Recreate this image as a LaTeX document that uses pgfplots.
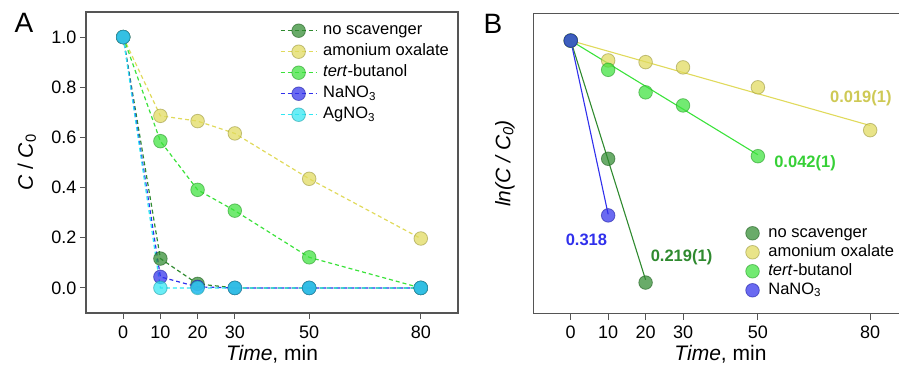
\documentclass[border=0pt]{standalone}
\usepackage{fontspec}
\setmainfont{Liberation Sans}
\usepackage{pgfplots}
\pgfplotsset{compat=1.18}

\definecolor{cNone}{HTML}{2F8A2F}
\definecolor{cAmo}{HTML}{E0DA5C}
\definecolor{cTert}{HTML}{3BE23B}
\definecolor{cNa}{HTML}{3030EC}
\definecolor{cAg}{HTML}{30E6F2}
\definecolor{axgray}{HTML}{555555}

\pgfplotsset{
  base/.style={
    scale only axis,
    axis line style={draw=axgray, line width=1.1pt},
    tick style={draw=axgray, line width=1pt},
    tick align=outside,
    major tick length=6pt,
    xtick pos=bottom, ytick pos=left,
    xmin=-10, xmax=90,
    xtick={0,10,20,30,50,80},
    /pgf/number format/assume math mode=true,
    ticklabel style={font=\fontsize{18}{20}\selectfont},
    xticklabel style={yshift=-3pt},
    label style={font=\fontsize{21}{24}\selectfont},
    xlabel={\textit{Time}, min},
    xlabel style={at={(axis description cs:0.5,0)}, anchor=center, yshift=-41pt},
  },
  mk/.style={mark=*, mark size=6.8pt,
    mark options={solid, fill=#1, fill opacity=0.72, draw=#1!70!black, draw opacity=0.6, line width=0.8pt}},
  dl/.style={color=#1, dash pattern=on 4pt off 3pt, line width=1.2pt, mk=#1},
  legA/.style={legend image code/.code={%
      \draw[##1, mark repeat=2, mark phase=2] plot coordinates {(0pt,0pt) (18pt,0pt) (36pt,0pt)};}},
  legB/.style={legend image code/.code={%
      \draw[##1] plot coordinates {(7pt,0pt)};}},
}

\begin{document}
\begin{tikzpicture}
% ---------------- Panel A ----------------
\begin{axis}[base,
  at={(86pt,53pt)}, anchor=south west,
  width=372pt, height=301pt,
  ymin=-0.1, ymax=1.1,
  ytick={0,0.2,0.4,0.6,0.8,1.0},
  yticklabel style={/pgf/number format/.cd, fixed, fixed zerofill, precision=1},
  ylabel={\textit{C} / \textit{C}\textsubscript{0}},
  ylabel style={at={(axis description cs:-0.159,0.5)}, anchor=center},
  legend cell align=left,
  legend style={at={(0.513,0.975)}, anchor=north west, draw=none, fill=none,
    font=\fontsize{16.5}{18}\selectfont, row sep=3pt,
    nodes={inner sep=1pt, text height=12pt, text depth=4pt},
    /tikz/every odd column/.append style={column sep=5pt}},
  legA,
]
\addplot[dl=cNone] coordinates {(0,1) (10,0.117) (20,0.016) (30,0) (50,0) (80,0)};
\addlegendentry{no scavenger}
\addplot[dl=cAmo] coordinates {(0,1) (10,0.686) (20,0.665) (30,0.616) (50,0.435) (80,0.197)};
\addlegendentry{amonium oxalate}
\addplot[dl=cTert] coordinates {(0,1) (10,0.585) (20,0.391) (30,0.308) (50,0.122) (80,0)};
\addlegendentry{\textit{tert}-butanol}
\addplot[dl=cNa] coordinates {(0,1) (10,0.044) (20,0.004) (30,0) (50,0) (80,0)};
\addlegendentry{NaNO\textsubscript{3}}
\addplot[dl=cAg] coordinates {(0,1) (10,0) (20,0) (30,0) (50,0) (80,0)};
\addlegendentry{AgNO\textsubscript{3}}
\end{axis}

% ---------------- Panel B ----------------
\begin{axis}[base,
  at={(533.3pt,52.3pt)}, anchor=south west,
  width=374.3pt, height=300.4pt,
  ymin=-5, ymax=0.5,
  ytick=\empty,
  ylabel={\textit{ln(C / C\textsubscript{0})}},
  ylabel style={at={(axis description cs:-0.076,0.5)}, anchor=center},
  legend cell align=left,
  legend style={at={(0.559,0.305)}, anchor=north west, draw=none, fill=none,
    font=\fontsize{16.5}{18}\selectfont, row sep=1pt,
    nodes={inner sep=1pt, text height=12pt, text depth=4pt},
    /tikz/every odd column/.append style={column sep=8pt}},
  legB,
]
% fitted lines
\addplot[forget plot, color=cAmo, line width=1.1pt] coordinates {(0,0) (80,-1.555)};
\addplot[forget plot, color=cTert, line width=1.1pt] coordinates {(0,0) (50,-2.09)};
\addplot[forget plot, color=cNone, line width=1.1pt] coordinates {(0,0) (20,-4.38)};
\addplot[forget plot, color=cNa, line width=1.1pt] coordinates {(0,0) (10,-3.18)};
% data
\addplot[only marks, mk=cNone] coordinates {(0,0) (10,-2.163) (20,-4.43)};
\addlegendentry{no scavenger}
\addplot[only marks, mk=cAmo] coordinates {(0,0) (10,-0.363) (20,-0.394) (30,-0.49) (50,-0.855) (80,-1.64)};
\addlegendentry{amonium oxalate}
\addplot[only marks, mk=cTert] coordinates {(0,0) (10,-0.535) (20,-0.947) (30,-1.187) (50,-2.116)};
\addlegendentry{\textit{tert}-butanol}
\addplot[only marks, mk=cNa] coordinates {(0,0) (10,-3.2)};
\addlegendentry{NaNO\textsubscript{3}}
\node[font=\bfseries\fontsize{16.5}{18}\selectfont, text=cAmo!92!black] at (axis cs:77.5,-1.057) {0.019(1)};
\node[font=\bfseries\fontsize{16.5}{18}\selectfont, text=cTert!92!black] at (axis cs:62.6,-2.245) {0.042(1)};
\node[font=\bfseries\fontsize{16.5}{18}\selectfont, text=cNa] at (axis cs:4.2,-3.653) {0.318};
\node[font=\bfseries\fontsize{16.5}{18}\selectfont, text=cNone] at (axis cs:29.6,-3.96) {0.219(1)};
\end{axis}

\node[font=\fontsize{28}{30}\selectfont] at (24pt,343pt) {A};
\node[font=\fontsize{28}{30}\selectfont] at (493pt,342pt) {B};

\pgfresetboundingbox
\path[use as bounding box] (0,0) rectangle (899pt,366pt);
\end{tikzpicture}
\end{document}
